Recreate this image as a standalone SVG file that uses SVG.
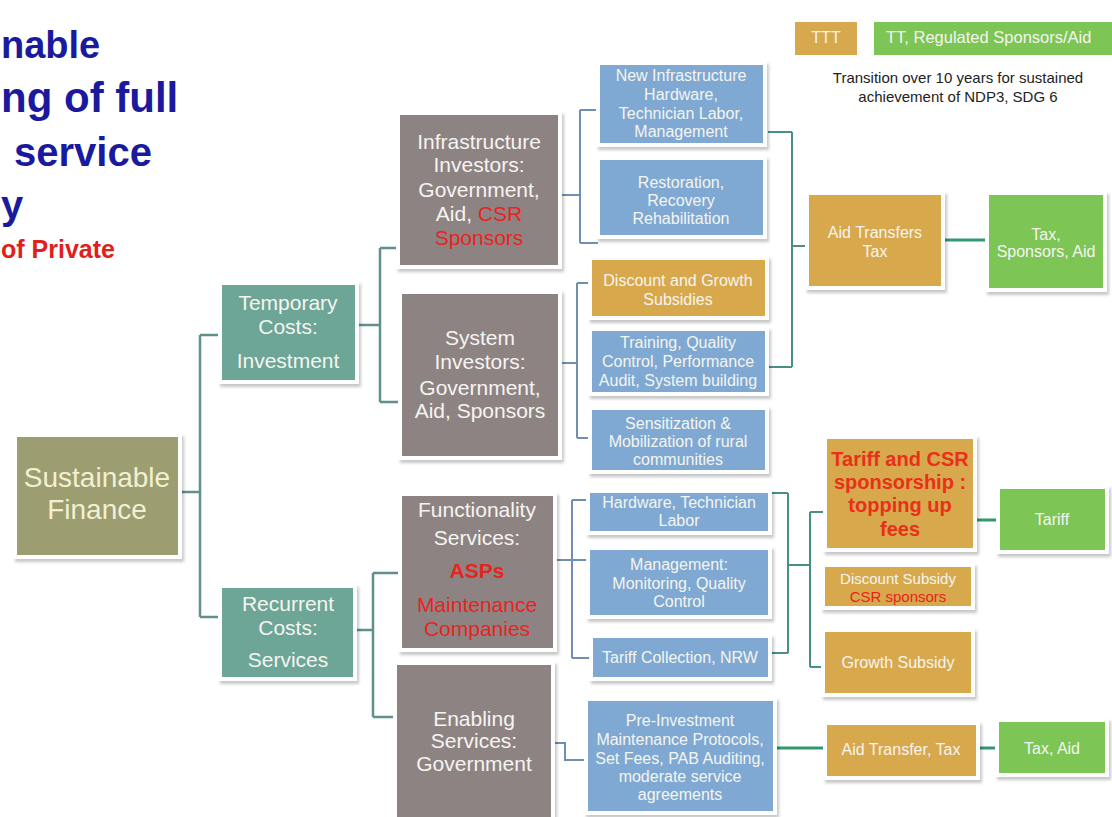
<svg xmlns="http://www.w3.org/2000/svg" width="1112" height="817" viewBox="0 0 1112 817">
<defs>
<filter id="sh" x="-10%" y="-10%" width="130%" height="130%">
<feDropShadow dx="2" dy="3" stdDeviation="1.5" flood-color="#000" flood-opacity="0.22"/>
</filter>
<style>
text{font-family:"Liberation Sans",Arial,sans-serif;text-anchor:middle}
.box{stroke:#fff;stroke-width:4;filter:url(#sh)}
.olive{fill:#9C9D70}
.teal{fill:#6DA597}
.gray{fill:#8E8383}
.blue{fill:#7FA9D2}
.tan{fill:#D8A84E}
.green{fill:#7DC555}
.wt{fill:#F5F5F0}
.cr{fill:#F2F0D2}
.red{fill:#E8231E}
.big{font-size:28px}
.mid{font-size:21px}
.sm{font-size:16px}
.title{font-weight:bold;text-anchor:start}
.c1{fill:none;stroke:#5F908B;stroke-width:2.5}
.c2{fill:none;stroke:#6E8FB3;stroke-width:2}
.c3{fill:none;stroke:#4A8F85;stroke-width:2}
.c4{fill:none;stroke:#2E9A6E;stroke-width:3}
</style>
</defs>
<rect width="1112" height="817" fill="#fff"/>

<g id="title">
<text class="title" x="1" y="58" font-size="38" fill="#1A1A9E">nable</text>
<text class="title" x="1" y="112" font-size="42" fill="#1A1A9E">ng of full</text>
<text class="title" x="14" y="166" font-size="40" fill="#1A1A9E">service</text>
<text class="title" x="1" y="219" font-size="40" fill="#1A1A9E">y</text>
<text class="title" x="1" y="258" font-size="25" fill="#E0201A">of Private</text>
</g>

<g id="legend">
<rect x="795" y="22" width="62" height="33" class="tan"/>
<text x="826" y="43" class="sm wt">TTT</text>
<rect x="874" y="22" width="240" height="33" class="green"/>
<text x="886" y="43" font-size="16.5" class="wt" style="text-anchor:start">TT, Regulated Sponsors/Aid</text>
<text x="958" y="83" font-size="15" fill="#222">Transition over 10 years for sustained</text>
<text x="958" y="102" font-size="15" fill="#222">achievement of NDP3, SDG 6</text>
</g>

<g id="connectors">
<path class="c1" d="M180,492 H200 M200,335 V617 M200,335 H220 M200,617 H220"/>
<path class="c1" d="M357,325 H380 M380,248 V402 M380,248 H398 M380,402 H400"/>
<path class="c1" d="M355,630 H373 M373,573 V717 M373,573 H400 M373,717 H395"/>
<path class="c2" d="M560,195 H580 M580,110 V243 M580,110 H598 M580,243 H598"/>
<path class="c2" d="M560,363 H577 M577,283 V438 M577,283 H590 M577,438 H590"/>
<path class="c2" d="M555,560 H588 M572,500 V658 M572,500 H588 M572,658 H591"/>
<path class="c2" d="M553,743 H565 V760 H586"/>
<path class="c3" d="M768,132 H792 M792,132 V367 M769,367 H792 M792,246 H807"/>
<path class="c3" d="M772,493 H788 M788,493 V653 M772,653 H788 M788,565 H810 M810,512 V667 M810,512 H825 M810,667 H823"/>
<path class="c4" d="M943,240 H987 M975,520 H998 M775,748 H825 M978,748 H997"/>
</g>

<g id="sustainable-finance">
<rect x="15" y="435" width="165" height="122" class="box olive"/>
<text x="97" y="487" class="big cr">Sustainable</text>
<text x="97" y="519" class="big cr">Finance</text>
</g>

<g id="temporary-costs">
<rect x="220" y="283" width="137" height="99" class="box teal"/>
<text x="288" y="310" class="mid wt">Temporary</text>
<text x="288" y="334" class="mid wt">Costs:</text>
<text x="288" y="368" class="mid wt">Investment</text>
</g>

<g id="recurrent-costs">
<rect x="220" y="586" width="135" height="93" class="box teal"/>
<text x="288" y="611" class="mid wt">Recurrent</text>
<text x="288" y="635" class="mid wt">Costs:</text>
<text x="288" y="667" class="mid wt">Services</text>
</g>

<g id="infrastructure-investors">
<rect x="398" y="113" width="162" height="154" class="box gray"/>
<text x="479" y="149" class="mid wt">Infrastructure</text>
<text x="479" y="172" class="mid wt">Investors:</text>
<text x="479" y="197" class="mid wt">Government,</text>
<text x="479" y="221" class="mid wt">Aid, <tspan class="red">CSR</tspan></text>
<text x="479" y="245" class="mid red">Sponsors</text>
</g>

<g id="system-investors">
<rect x="400" y="292" width="160" height="166" class="box gray"/>
<text x="480" y="345" class="mid wt">System</text>
<text x="480" y="369" class="mid wt">Investors:</text>
<text x="480" y="395" class="mid wt">Government,</text>
<text x="480" y="418" class="mid wt">Aid, Sponsors</text>
</g>

<g id="functionality-services">
<rect x="400" y="494" width="155" height="156" class="box gray"/>
<text x="477" y="517" class="mid wt">Functionality</text>
<text x="477" y="545" class="mid wt">Services:</text>
<text x="477" y="578" class="mid red" font-weight="bold">ASPs</text>
<text x="477" y="612" class="mid red">Maintenance</text>
<text x="477" y="636" class="mid red">Companies</text>
</g>

<g id="enabling-services">
<rect x="395" y="663" width="158" height="160" class="box gray"/>
<text x="474" y="726" class="mid wt">Enabling</text>
<text x="474" y="748" class="mid wt">Services:</text>
<text x="474" y="771" class="mid wt">Government</text>
</g>

<g id="new-infrastructure">
<rect x="598" y="63" width="167" height="82" class="box blue"/>
<text x="681" y="81" class="sm wt">New Infrastructure</text>
<text x="681" y="100" class="sm wt">Hardware,</text>
<text x="681" y="119" class="sm wt">Technician Labor,</text>
<text x="681" y="137" class="sm wt">Management</text>
</g>

<g id="restoration">
<rect x="598" y="158" width="167" height="79" class="box blue"/>
<text x="681" y="188" class="sm wt">Restoration,</text>
<text x="681" y="206" class="sm wt">Recovery</text>
<text x="681" y="224" class="sm wt">Rehabilitation</text>
</g>

<g id="discount-growth">
<rect x="590" y="258" width="177" height="60" class="box tan"/>
<text x="678" y="286" class="sm wt">Discount and Growth</text>
<text x="678" y="305" class="sm wt">Subsidies</text>
</g>

<g id="training">
<rect x="590" y="329" width="177" height="65" class="box blue"/>
<text x="678" y="348" class="sm wt">Training, Quality</text>
<text x="678" y="367" class="sm wt">Control, Performance</text>
<text x="678" y="386" class="sm wt">Audit, System building</text>
</g>

<g id="sensitization">
<rect x="590" y="408" width="177" height="64" class="box blue"/>
<text x="678" y="429" class="sm wt">Sensitization &amp;</text>
<text x="678" y="447" class="sm wt">Mobilization of rural</text>
<text x="678" y="465" class="sm wt">communities</text>
</g>

<g id="hardware-labor">
<rect x="588" y="491" width="182" height="42" class="box blue"/>
<text x="679" y="508" class="sm wt">Hardware, Technician</text>
<text x="679" y="526" class="sm wt">Labor</text>
</g>

<g id="management">
<rect x="588" y="548" width="182" height="69" class="box blue"/>
<text x="679" y="570" class="sm wt">Management:</text>
<text x="679" y="589" class="sm wt">Monitoring, Quality</text>
<text x="679" y="607" class="sm wt">Control</text>
</g>

<g id="tariff-collection">
<rect x="591" y="636" width="179" height="43" class="box blue"/>
<text x="680" y="663" class="sm wt">Tariff Collection, NRW</text>
</g>

<g id="pre-investment">
<rect x="586" y="699" width="189" height="114" class="box blue"/>
<text x="680" y="726" class="sm wt">Pre-Investment</text>
<text x="680" y="745" class="sm wt">Maintenance Protocols,</text>
<text x="680" y="764" class="sm wt">Set Fees, PAB Auditing,</text>
<text x="680" y="782" class="sm wt">moderate service</text>
<text x="680" y="800" class="sm wt">agreements</text>
</g>

<g id="aid-transfers-tax">
<rect x="807" y="193" width="136" height="95" class="box tan"/>
<text x="875" y="238" class="sm wt">Aid Transfers</text>
<text x="875" y="257" class="sm wt">Tax</text>
</g>

<g id="tax-sponsors-aid">
<rect x="987" y="193" width="118" height="97" class="box green"/>
<text x="1046" y="240" class="sm wt">Tax,</text>
<text x="1046" y="257" class="sm wt">Sponsors, Aid</text>
</g>

<g id="tariff-csr">
<rect x="825" y="437" width="150" height="113" class="box tan"/>
<text x="900" y="466" font-size="20" font-weight="bold" fill="#E8301A">Tariff and CSR</text>
<text x="900" y="489" font-size="20" font-weight="bold" fill="#E8301A">sponsorship :</text>
<text x="900" y="512" font-size="20" font-weight="bold" fill="#E8301A">topping up</text>
<text x="900" y="536" font-size="20" font-weight="bold" fill="#E8301A">fees</text>
</g>

<g id="tariff">
<rect x="998" y="487" width="109" height="65" class="box green"/>
<text x="1052" y="525" class="sm wt">Tariff</text>
</g>

<g id="discount-subsidy">
<rect x="823" y="565" width="150" height="43" class="box tan"/>
<text x="898" y="584" font-size="15" class="wt">Discount Subsidy</text>
<text x="898" y="602" font-size="15" class="red">CSR sponsors</text>
</g>

<g id="growth-subsidy">
<rect x="823" y="630" width="150" height="65" class="box tan"/>
<text x="898" y="668" class="sm wt">Growth Subsidy</text>
</g>

<g id="aid-transfer-tax">
<rect x="825" y="723" width="153" height="55" class="box tan"/>
<text x="901" y="755" class="sm wt">Aid Transfer, Tax</text>
</g>

<g id="tax-aid">
<rect x="997" y="720" width="110" height="55" class="box green"/>
<text x="1052" y="754" class="sm wt">Tax, Aid</text>
</g>
</svg>
